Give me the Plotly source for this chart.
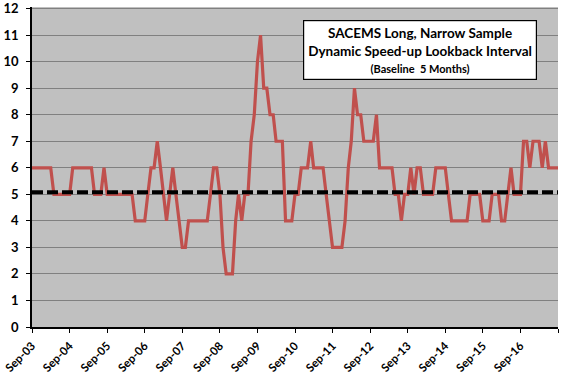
import pandas as pd
import plotly.graph_objects as go

# Monthly lookback interval (months), Sep-03 .. Sep-17, one row per year (Sep..Aug)
lookback = [
    6, 6, 6, 6, 6, 6, 6, 5, 5, 5, 5, 5,
    5, 6, 6, 6, 6, 6, 6, 6, 5, 5, 5, 6,
    5, 5, 5, 5, 5, 5, 5, 5, 5, 4, 4, 4,
    4, 5, 6, 6, 7, 6, 5, 4, 5, 6, 5, 4,
    3, 3, 4, 4, 4, 4, 4, 4, 4, 5, 6, 6,
    5, 3, 2, 2, 2, 4, 5, 4, 5, 5, 7, 8,
    10, 11, 9, 9, 8, 8, 7, 7, 7, 4, 4, 4,
    5, 5, 6, 6, 6, 7, 6, 6, 6, 6, 5, 4,
    3, 3, 3, 3, 4, 6, 7, 9, 8, 8, 7, 7,
    7, 7, 8, 6, 6, 6, 6, 6, 5, 5, 4, 5,
    5, 6, 5, 6, 6, 5, 5, 5, 5, 6, 6, 6,
    6, 5, 4, 4, 4, 4, 4, 4, 5, 5, 5, 5,
    4, 4, 4, 5, 5, 5, 4, 4, 5, 6, 5, 5,
    5, 7, 7, 6, 7, 7, 7, 6, 7, 6, 6, 6,
    6,
]
start_month = "2003-09-01"
baseline_value = 5.08

y_ticks = [0, 1, 2, 3, 4, 5, 6, 7, 8, 9, 10, 11, 12]
tick_dates = ["2003-09-01", "2004-09-01", "2005-09-01", "2006-09-01", "2007-09-01",
              "2008-09-01", "2009-09-01", "2010-09-01", "2011-09-01", "2012-09-01",
              "2013-09-01", "2014-09-01", "2015-09-01", "2016-09-01", "2017-09-01"]
tick_labels = ["Sep-03", "Sep-04", "Sep-05", "Sep-06", "Sep-07", "Sep-08", "Sep-09",
               "Sep-10", "Sep-11", "Sep-12", "Sep-13", "Sep-14", "Sep-15", "Sep-16", ""]

title_lines = ["SACEMS Long, Narrow Sample", "Dynamic Speed-up Lookback Interval",
               "(Baseline  5 Months)"]

dates = pd.date_range(start_month, periods=len(lookback), freq="MS")

fig = go.Figure()
fig.add_trace(go.Scatter(
    x=dates, y=lookback, mode="lines",
    line=dict(color="#C0504D", width=3.2), showlegend=False, hoverinfo="skip"))
fig.add_trace(go.Scatter(
    x=[dates[0], dates[-1]], y=[baseline_value, baseline_value], mode="lines",
    line=dict(color="black", width=4, dash="11px,4px"), showlegend=False, hoverinfo="skip"))

FONT = "Lato"
fig.update_layout(
    width=576, height=384,
    margin=dict(l=32, r=18, t=7, b=57),
    paper_bgcolor="white", plot_bgcolor="#C0C0C0",
    font=dict(family=FONT, color="black"),
    xaxis=dict(
        type="date", range=[tick_dates[0], tick_dates[-1]],
        tickmode="array", tickvals=tick_dates, ticktext=tick_labels,
        tickangle=-45, ticks="outside", ticklen=4, tickcolor="black", tickwidth=1,
        showline=True, linecolor="black", linewidth=1.5,
        showgrid=False, zeroline=False, automargin=False,
        ticklabeloverflow="allow", ticklabelstandoff=2,
        tickfont=dict(family=FONT, size=11.5, color="black", weight="bold"),
    ),
    yaxis=dict(
        range=[0, 12.06], tickmode="array", tickvals=y_ticks,
        ticks="outside", ticklen=4, tickcolor="black", tickwidth=1,
        showline=True, linecolor="black", linewidth=1.5,
        showgrid=True, gridcolor="#808080", gridwidth=1, zeroline=False,
        ticklabelstandoff=5, automargin=False, ticklabeloverflow="allow",
        tickfont=dict(family=FONT, size=13, color="black", weight="bold"),
    ),
)

fig.add_annotation(
    xref="paper", yref="paper", x=0.515, y=0.958, xanchor="left", yanchor="top",
    text=("<b>" + title_lines[0] + "</b><br><b>" + title_lines[1] + "</b><br>"
          "<span style='font-size:11px'><b>" + title_lines[2] + "</b></span>"),
    showarrow=False, align="center", bgcolor="white", bordercolor="black",
    borderwidth=1.2, borderpad=4,
    font=dict(family=FONT, size=13.5, color="black"),
)

fig.write_html("out.html", config={"displayModeBar": False},
               post_script="document.body.style.margin='0';document.body.style.padding='0';")
